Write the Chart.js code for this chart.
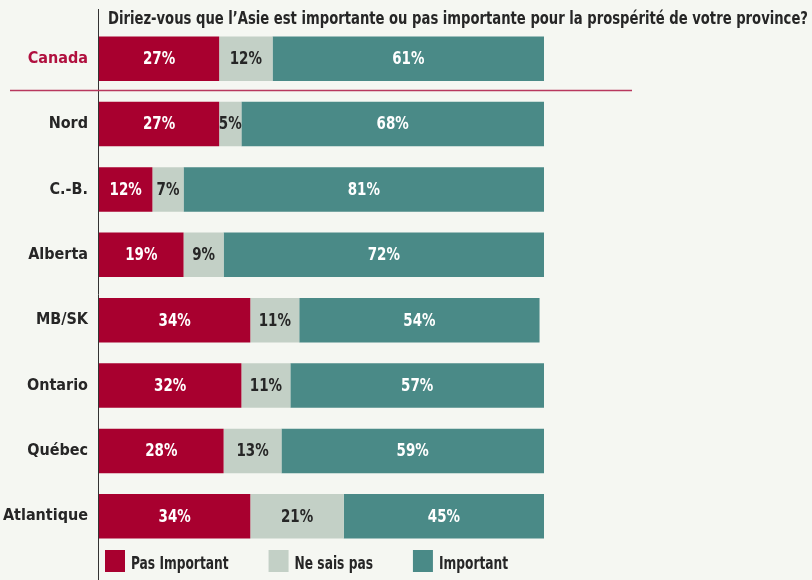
<!DOCTYPE html>
<html>
<head>
<meta charset="utf-8">
<script src="https://cdn.jsdelivr.net/npm/chart.js@4"></script>
<style>
  html, body { margin: 0; padding: 0; background: #f5f7f2; }
  #wrap { width: 812px; height: 580px; }
</style>
</head>
<body>
<div id="wrap"><canvas id="myChart" width="812" height="580"></canvas></div>
<script>
const regions = ['Canada', 'Nord', 'C.-B.', 'Alberta', 'MB/SK', 'Ontario', 'Québec', 'Atlantique'];
const pasImportant = [27, 27, 12, 19, 34, 32, 28, 34];
const neSaisPas = [12, 5, 7, 9, 11, 11, 13, 21];
const important = [61, 68, 81, 72, 54, 57, 59, 45];
const seriesNames = ['Pas Important', 'Ne sais pas', 'Important'];
const titre = 'Diriez-vous que l’Asie est importante ou pas importante pour la prospérité de votre province?';

const FONT = "'DejaVu Sans Condensed', 'Liberation Sans Narrow', Roboto, sans-serif";
const rouge = '#a8002f';
const gris = '#c3d0c6';
const sarcelle = '#4a8a87';
const texte = '#262626';

// texte un peu resserre, comme la police condensee d'origine
function narrowText(ctx, str, x, y, sx) {
  ctx.save();
  ctx.translate(x, y);
  ctx.scale(sx, 1);
  ctx.fillText(str, 0, 0);
  ctx.restore();
}

// etiquettes de valeur dans les barres
const valueLabels = {
  id: 'valueLabels',
  afterDatasetsDraw(chart) {
    const ctx = chart.ctx;
    ctx.save();
    ctx.font = `bold 17px ${FONT}`;
    ctx.textAlign = 'center';
    ctx.textBaseline = 'middle';
    chart.data.datasets.forEach((ds, i) => {
      const meta = chart.getDatasetMeta(i);
      meta.data.forEach((bar, j) => {
        ctx.fillStyle = i === 1 ? texte : '#ffffff';
        narrowText(ctx, `${ds.data[j]}%`, (bar.x + bar.base) / 2, bar.y + 1, 0.88);
      });
    });
    ctx.restore();
  }
};

// titre, ligne de l'axe, separateur Canada et legende
const decor = {
  id: 'decor',
  afterDraw(chart) {
    const ctx = chart.ctx;
    const area = chart.chartArea;
    const y = chart.scales.y;
    ctx.save();

    ctx.font = `bold 17px ${FONT}`;
    ctx.fillStyle = texte;
    ctx.textAlign = 'right';
    ctx.textBaseline = 'alphabetic';
    ctx.fillText(titre, 808, 24, 700);

    ctx.strokeStyle = '#333333';
    ctx.lineWidth = 1;
    ctx.beginPath();
    ctx.moveTo(area.left - 0.5, 9);
    ctx.lineTo(area.left - 0.5, chart.height);
    ctx.stroke();

    const sepY = (y.getPixelForValue(0) + y.getPixelForValue(1)) / 2 - 1;
    ctx.strokeStyle = '#b8385e';
    ctx.lineWidth = 1.5;
    ctx.beginPath();
    ctx.moveTo(10, sepY);
    ctx.lineTo(632, sepY);
    ctx.stroke();

    ctx.textBaseline = 'alphabetic';
    ctx.textAlign = 'left';
    let x = area.left + 6;
    const top = area.bottom + 1;
    chart.data.datasets.forEach((ds) => {
      ctx.fillStyle = ds.backgroundColor;
      ctx.fillRect(x, top, 20, 22);
      ctx.fillStyle = texte;
      narrowText(ctx, ds.label, x + 26, top + 19, 0.8);
      x += 26 + ctx.measureText(ds.label).width * 0.8 + 40;
    });
    ctx.restore();
  }
};

const config = {
  type: 'bar',
  data: {
    labels: regions,
    datasets: [
      { label: seriesNames[0], data: pasImportant, backgroundColor: rouge },
      { label: seriesNames[1], data: neSaisPas, backgroundColor: gris },
      { label: seriesNames[2], data: important, backgroundColor: sarcelle },
    ]
  },
  options: {
    indexAxis: 'y',
    responsive: false,
    animation: false,
    layout: { padding: { left: 0, right: 268, bottom: 31, top: 26 } },
    datasets: { bar: { barPercentage: 0.68, categoryPercentage: 1 } },
    scales: {
      x: { stacked: true, min: 0, max: 100, display: false },
      y: {
        stacked: true,
        grid: { display: false },
        border: { display: false },
        afterFit: (scale) => { scale.width = 99; },
        ticks: {
          padding: 3,
          font: { family: FONT, size: 16, weight: 'bold' },
          color: (c) => c.index === 0 ? '#b0103f' : texte
        }
      }
    },
    plugins: {
      legend: { display: false },
      tooltip: { enabled: false },
      title: { display: false }
    }
  },
  plugins: [valueLabels, decor]
};

window.onload = () => {
  new Chart(document.getElementById('myChart'), config);
};
</script>
</body>
</html>
